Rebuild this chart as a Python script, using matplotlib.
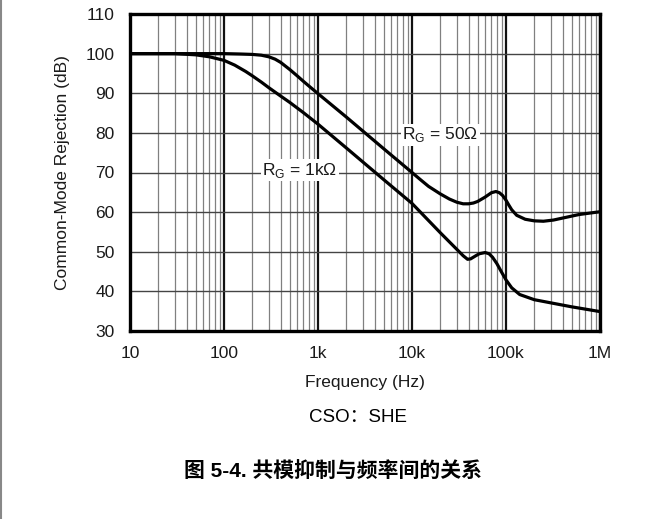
import matplotlib
matplotlib.use("Agg")
import matplotlib.pyplot as plt
from matplotlib.ticker import FixedLocator, NullFormatter, LogLocator
from matplotlib.lines import Line2D

# ---- data ----
freq_50 = [10, 100, 150, 200, 250, 300, 350, 400, 500, 600, 700, 850, 1000, 2000,
           5000, 10000, 12000, 15000, 20000, 25000, 30000, 35000, 40000, 45000,
           50000, 60000, 70000, 78000, 85000, 92000, 100000, 107000, 115000,
           130000, 160000, 200000, 250000, 320000, 400000, 600000, 1000000]
cmr_50 = [100, 100, 99.9, 99.8, 99.6, 99.2, 98.6, 97.8, 96.0, 94.4, 93.0, 91.3, 89.9, 84.0,
          76.0, 70.0, 68.4, 66.5, 64.6, 63.3, 62.5, 62.1, 62.1, 62.3,
          62.7, 63.8, 64.9, 65.2, 64.9, 64.2, 63.0, 61.8, 60.6,
          59.2, 58.2, 57.8, 57.7, 58.0, 58.5, 59.4, 60.1]

freq_1k = [10, 30, 50, 70, 100, 130, 170, 200, 250, 300, 400, 500, 700, 1000, 2000,
           5000, 10000, 20000, 30000, 35000, 39000, 42000, 47000, 52000, 60000,
           66000, 72000, 80000, 90000, 100000, 115000, 140000, 200000, 316000,
           500000, 1000000]
cmr_1k = [100, 100, 99.7, 99.2, 98.3, 97.1, 95.5, 94.4, 92.8, 91.4, 89.3, 87.7, 85.1, 82.2,
          76.2, 68.2, 62.2, 54.8, 50.6, 49.0, 48.1, 48.2, 48.9, 49.5, 49.8,
          49.5, 48.6, 47.0, 44.8, 42.9, 40.9, 39.2, 37.9, 37.0,
          36.1, 34.9]

xtick_vals = [10, 100, 1000, 10000, 100000, 1000000]
xtick_labels = ["10", "100", "1k", "10k", "100k", "1M"]
ytick_vals = [30, 40, 50, 60, 70, 80, 90, 100, 110]

label_50 = r"R$_\mathregular{G}$ = 50Ω"
label_1k = r"R$_\mathregular{G}$ = 1kΩ"

plt.rcParams['font.family'] = ['Liberation Sans', 'DejaVu Sans']

W, H = 663, 519
fig = plt.figure(figsize=(W / 100, H / 100), dpi=100)
ax = fig.add_axes([130 / W, 1 - 331 / H, 470 / W, 317 / H])

ax.set_xscale('log')
ax.set_xlim(10, 1e6)
ax.set_ylim(30, 110)

# grid
ax.xaxis.set_major_locator(FixedLocator(xtick_vals))
ax.xaxis.set_minor_locator(LogLocator(base=10, subs=range(2, 10), numticks=20))
ax.xaxis.set_minor_formatter(NullFormatter())
ax.set_xticks(xtick_vals)
ax.set_xticklabels(xtick_labels)
ax.set_yticks(ytick_vals)
ax.grid(which='major', axis='x', color='#111111', lw=1.6)
ax.grid(which='minor', axis='x', color='#808080', lw=0.9)
ax.grid(which='major', axis='y', color='#444444', lw=1.0)
ax.set_axisbelow(True)
ax.tick_params(which='both', length=0, labelsize=12.5, colors='#1a1a1a')
ax.tick_params(axis='x', pad=11)
ax.tick_params(axis='y', pad=11)

for s in ax.spines.values():
    s.set_linewidth(2.4)
    s.set_color('black')

ax.plot(freq_50, cmr_50, color='black', lw=2.3, zorder=3, solid_joinstyle='round')
ax.plot(freq_1k, cmr_1k, color='black', lw=2.3, zorder=3, solid_joinstyle='round')

ax.text(19900, 79.5, label_50, ha='center', va='center', fontsize=12.5, color='#1a1a1a',
        bbox=dict(facecolor='white', edgecolor='none', pad=1.0), zorder=4)
ax.text(640, 70.6, label_1k, ha='center', va='center', fontsize=12.5, color='#1a1a1a',
        bbox=dict(facecolor='white', edgecolor='none', pad=1.0), zorder=4)

ax.set_ylabel("Common-Mode Rejection (dB)", fontsize=12.5, color='#1a1a1a')
ax.yaxis.set_label_coords(-(130 - 63) / 470, 0.5)
ax.yaxis.label.set_va('center')
ax.set_xlabel("Frequency (Hz)", fontsize=12.5, color='#1a1a1a')
ax.xaxis.set_label_coords(0.5, -(383 - 331) / 317)
ax.xaxis.label.set_va('center')

fig.text(358 / W, 1 - 418 / H, "CSO：SHE", ha='center', va='center', fontsize=13.5,
         family=['Liberation Sans', 'Noto Sans CJK SC'])
fig.text(333 / W, 1 - 472 / H, "图 5-4. 共模抑制与频率间的关系", ha='center', va='center',
         fontsize=15, fontweight='bold', family=['Liberation Sans', 'Noto Sans CJK SC'])

fig.add_artist(Line2D([1 / W, 1 / W], [0, 1], transform=fig.transFigure,
                      color='#888888', lw=1.5))

fig.savefig("out.png", dpi=100)
